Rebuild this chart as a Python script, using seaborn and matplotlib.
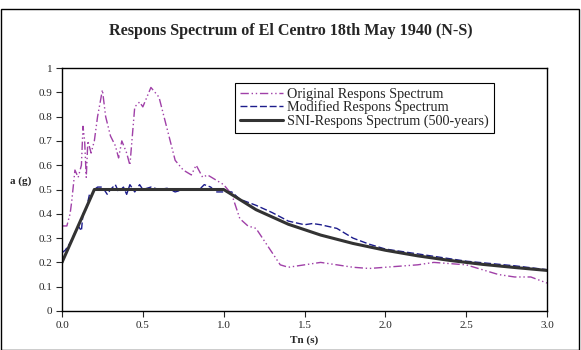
import numpy as np
import pandas as pd
import matplotlib.pyplot as plt
import matplotlib.patches as patches
import seaborn as sns

# spektrum asli (El Centro N-S)
t_orig = [0.0, 0.03, 0.05, 0.06, 0.08, 0.1, 0.12, 0.13, 0.14, 0.15, 0.16, 0.18, 0.2,
          0.22, 0.25, 0.27, 0.3, 0.33, 0.35, 0.37, 0.4, 0.42, 0.45, 0.48, 0.5, 0.55,
          0.6, 0.65, 0.7, 0.75, 0.8, 0.83, 0.87, 0.9, 0.95, 1.0, 1.05, 1.1, 1.15, 1.2,
          1.3, 1.35, 1.4, 1.5, 1.6, 1.7, 1.8, 1.9, 2.0, 2.2, 2.3, 2.5, 2.7, 2.8, 2.9, 3.0]
a_orig = [0.35, 0.35, 0.40, 0.45, 0.58, 0.55, 0.60, 0.76, 0.70, 0.55, 0.70, 0.65, 0.70,
          0.80, 0.91, 0.80, 0.72, 0.68, 0.63, 0.70, 0.65, 0.60, 0.84, 0.86, 0.84, 0.92,
          0.88, 0.75, 0.62, 0.58, 0.56, 0.60, 0.55, 0.56, 0.54, 0.52, 0.48, 0.38, 0.35, 0.34,
          0.24, 0.19, 0.18, 0.19, 0.20, 0.19, 0.18, 0.175, 0.18, 0.19, 0.20, 0.19, 0.15, 0.14, 0.14, 0.115]

# spektrum modifikasi
t_mod = [0.0, 0.02, 0.05, 0.1, 0.12, 0.13, 0.15, 0.17, 0.18, 0.2, 0.22, 0.25, 0.28, 0.3,
         0.33, 0.35, 0.38, 0.4, 0.42, 0.45, 0.48, 0.5, 0.55, 0.6, 0.65, 0.7, 0.75, 0.8,
         0.85, 0.88, 0.92, 0.95, 1.0, 1.05, 1.1, 1.2, 1.3, 1.4, 1.5, 1.55, 1.6, 1.7, 1.8,
         1.9, 2.0, 2.2, 2.5, 2.8, 3.0]
a_mod = [0.24, 0.25, 0.28, 0.35, 0.33, 0.40, 0.42, 0.48, 0.47, 0.50, 0.51, 0.51, 0.48, 0.50,
         0.52, 0.49, 0.51, 0.48, 0.52, 0.49, 0.52, 0.50, 0.51, 0.50, 0.505, 0.49, 0.50, 0.50,
         0.50, 0.52, 0.51, 0.49, 0.49, 0.49, 0.46, 0.435, 0.405, 0.37, 0.355, 0.36, 0.355, 0.34, 0.30,
         0.275, 0.255, 0.235, 0.205, 0.186, 0.17]

# spektrum SNI 500 tahun
t_sni = [0.0, 0.2, 1.0, 1.2, 1.4, 1.6, 1.8, 2.0, 2.2, 2.4, 2.6, 2.8, 3.0]
a_sni = [0.20, 0.50, 0.50, 0.417, 0.357, 0.3125, 0.278, 0.25, 0.227, 0.208, 0.192, 0.179, 0.167]

sns.set_theme(style="white")
plt.rcParams['font.family'] = ['Liberation Serif', 'DejaVu Serif']

fig = plt.figure(figsize=(5.81, 3.5), dpi=100)
ax = fig.add_axes([62/581, 1 - 311/350, (547-62)/581, (311-68)/350])

sns.lineplot(x=t_orig, y=a_orig, ax=ax, color='#a040a8', lw=1.0,
             label='Original Respons Spectrum')
ax.lines[-1].set_dashes([6, 2, 1, 2, 1, 2])
sns.lineplot(x=t_mod, y=a_mod, ax=ax, color='#1c1c8c', lw=1.0,
             label='Modified Respons Spectrum')
ax.lines[-1].set_dashes([5, 2])
sns.lineplot(x=t_sni, y=a_sni, ax=ax, color='#333333', lw=2.2,
             label='SNI-Respons Spectrum (500-years)')

ax.set_xlim(0, 3.0)
ax.set_ylim(0, 1)
ax.set_xticks(np.arange(0, 3.01, 0.5))
ax.set_xticklabels(['%.1f' % v for v in np.arange(0, 3.01, 0.5)])
ax.set_yticks(np.arange(0, 1.01, 0.1))
ax.set_yticklabels(['%g' % round(v, 1) for v in np.arange(0, 1.01, 0.1)])
ax.tick_params(axis='both', direction='out', length=4, width=0.8, labelsize=8, pad=3)
ax.tick_params(axis='both', which='both', bottom=True, left=True)
for s in ax.spines.values():
    s.set_color('black')
    s.set_linewidth(1.0)

ax.set_xlabel('Tn (s)', fontsize=8, fontweight='bold', labelpad=4)
ax.set_ylabel('a (g)', fontsize=8, fontweight='bold', rotation=0, va='center')
ax.yaxis.set_label_coords(-0.085, 0.535)

leg = ax.legend(loc='upper left', bbox_to_anchor=(0.357, 0.94), fontsize=10.2,
                frameon=True, fancybox=False, edgecolor='black', framealpha=1,
                handlelength=3.0, handletextpad=0.3, borderpad=0.35, labelspacing=0.0,
                borderaxespad=0)
leg.get_frame().set_linewidth(0.8)

fig.text(0.5, 1 - 31/350, 'Respons Spectrum of El Centro 18th May 1940 (N-S)',
         ha='center', va='center', fontsize=11.6, fontweight='bold')

fig.patches.append(patches.Rectangle((0.002, 0.0), 0.995, 1 - 9/350, transform=fig.transFigure,
                                     fill=False, edgecolor='black', linewidth=1.0))

fig.savefig('out.png', dpi=100)
